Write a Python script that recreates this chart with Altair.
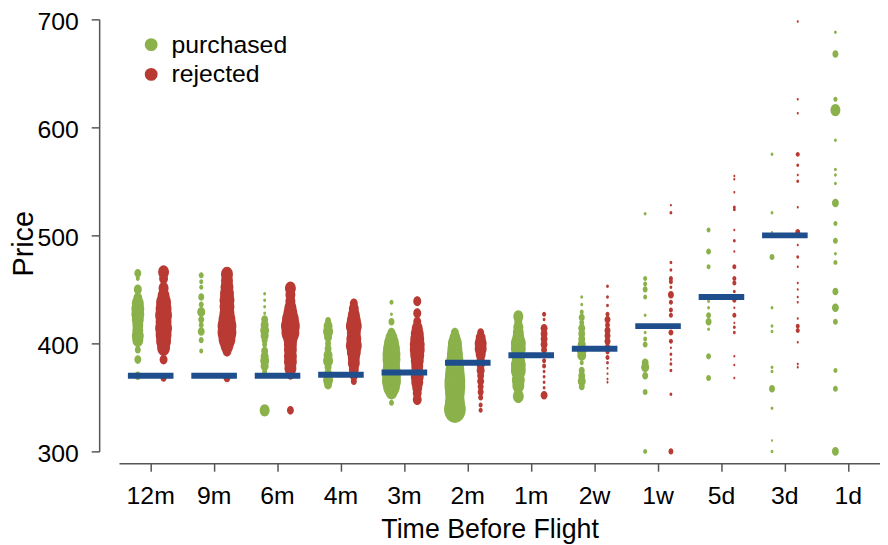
import altair as alt
import pandas as pd

PERIODS = ["12m", "9m", "6m", "4m", "3m", "2m", "1m", "2w", "1w", "5d", "3d", "1d"]
OUTCOMES = ["purchased", "rejected"]
COLORS = ["#8AB14A", "#B83A32"]
BAR_COLOR = "#1F4E8C"
FONT = "Liberation Sans"

# (price, number of observations) per period and outcome
purchased_12m = [(465,12),(460,4),(450,16),(442,20),(437,36),(432,42),(427,42),(422,36),(417,30),(412,30),(407,36),(403,30),(394,9),(385,12),(370,12)]
rejected_12m = [(466,30),(460,20),(451,25),(444,36),(438,56),(432,64),(426,72),(420,64),(414,72),(408,64),(402,56),(396,42),(385,16),(368,9)]
purchased_9m = [(463,6),(457,4),(452,4),(443,9),(436,6),(429,16),(422,9),(417,6),(411,12),(403,6),(393,4),(369,2)]
rejected_9m = [(464,36),(458,36),(452,42),(446,49),(440,56),(434,56),(428,56),(422,72),(416,90),(410,90),(404,72),(398,42),(393,20),(368,12)]
purchased_6m = [(446,2),(440,2),(434,2),(428,2),(422,12),(417,16),(412,20),(407,16),(403,9),(399,6),(393,12),(388,16),(384,20),(379,16),(374,6),(338,25)]
rejected_6m = [(451,30),(445,25),(439,25),(433,36),(428,49),(422,72),(416,90),(410,81),(404,49),(399,42),(394,42),(388,42),(383,42),(377,36),(371,16),(338,12)]
purchased_4m = [(421,9),(416,20),(411,25),(406,16),(400,9),(395,12),(389,20),(384,25),(378,12),(371,20),(366,25),(362,16)]
rejected_4m = [(437,16),(432,25),(426,36),(421,49),(416,64),(410,49),(404,56),(398,64),(392,49),(387,36),(382,36),(376,25),(370,16),(365,9)]
purchased_3m = [(438,4),(427,2),(420,9),(410,16),(405,36),(400,56),(395,72),(390,81),(385,81),(380,72),(375,81),(370,90),(365,90),(360,72),(355,36),(345,6)]
rejected_3m = [(439,16),(428,16),(420,16),(414,30),(409,42),(404,49),(399,56),(394,56),(389,49),(384,42),(379,36),(374,36),(369,42),(364,36),(359,25),(354,20),(348,20)]
purchased_2m = [(410,16),(405,30),(400,49),(395,56),(390,64),(385,72),(380,81),(375,90),(370,100),(365,110),(360,110),(355,100),(350,90),(345,100),(339,121)]
rejected_2m = [(410,12),(405,25),(400,36),(395,36),(390,25),(385,16),(380,16),(375,16),(370,12),(365,12),(360,9),(355,9),(350,6),(343,4),(338,4)]
purchased_1m = [(425,25),(420,16),(415,25),(410,30),(405,36),(400,56),(395,56),(390,42),(385,42),(380,56),(375,56),(370,30),(366,42),(361,36),(356,16),(351,30)]
rejected_1m = [(427,4),(422,2),(414,12),(409,12),(404,12),(399,12),(394,9),(389,6),(384,4),(379,4),(374,2),(369,2),(364,2),(359,2),(352,12)]
purchased_2w = [(443,2),(436,2),(429,4),(424,9),(419,6),(414,12),(409,12),(404,12),(399,16),(394,25),(389,20),(382,4),(375,9),(370,12),(365,16),(360,9)]
rejected_2w = [(453,2),(443,2),(435,2),(427,4),(422,9),(417,6),(412,9),(407,9),(402,9),(397,6),(392,4),(387,4),(382,2),(377,1),(372,1),(367,1),(364,1)]
purchased_1w = [(520,2),(460,4),(455,4),(450,6),(443,4),(426,2),(410,2),(404,4),(399,6),(382,12),(378,16),(370,9),(355,6),(300,4)]
rejected_1w = [(528,1),(521,2),(475,2),(468,2),(460,4),(457,4),(452,2),(445,9),(438,4),(431,4),(426,4),(410,6),(402,4),(396,1),(390,2),(385,1),(381,2),(375,2),(353,2),(300,6)]
purchased_5d = [(505,4),(485,6),(471,4),(439,2),(433,2),(426,6),(420,9),(413,2),(388,6),(368,6)]
rejected_5d = [(555,1),(552,1),(540,1),(526,2),(524,2),(505,1),(495,2),(485,1),(471,4),(460,4),(456,4),(448,2),(440,4),(433,1),(426,4),(419,1),(415,2),(410,2),(388,1),(380,1),(368,1)]
purchased_3d = [(575,2),(521,2),(503,1),(480,6),(433,2),(416,2),(411,2),(378,2),(374,2),(358,9),(340,2),(310,1),(300,2)]
rejected_3d = [(698,1),(626,1),(613,1),(575,4),(565,2),(556,1),(550,2),(526,1),(503,6),(491,1),(480,2),(471,1),(456,1),(450,1),(443,1),(438,1),(423,1),(416,4),(412,4),(401,1),(381,1),(378,1)]
purchased_1d = [(688,2),(668,9),(626,4),(616,25),(588,2),(561,2),(556,2),(548,2),(530,12),(511,4),(495,6),(483,2),(475,4),(448,9),(433,12),(420,6),(375,4),(358,6),(300,12)]
rejected_1d = []

THRESHOLD_PERIODS = ["12m", "9m", "6m", "4m", "3m", "2m", "1m", "2w", "1w", "5d", "3d"]
THRESHOLD_PRICES = [370, 370, 370, 371, 373, 382, 389, 395, 416, 443, 500]

purchased = [purchased_12m, purchased_9m, purchased_6m, purchased_4m, purchased_3m, purchased_2m,
             purchased_1m, purchased_2w, purchased_1w, purchased_5d, purchased_3d, purchased_1d]
rejected = [rejected_12m, rejected_9m, rejected_6m, rejected_4m, rejected_3m, rejected_2m,
            rejected_1m, rejected_2w, rejected_1w, rejected_5d, rejected_3d, rejected_1d]

rows = []
for outcome, groups in zip(OUTCOMES, [purchased, rejected]):
    for period, pts in zip(PERIODS, groups):
        for price, n in pts:
            rows.append({"period": period, "outcome": outcome, "price": price, "n": n})
points_df = pd.DataFrame(rows)
bars_df = pd.DataFrame({"period": THRESHOLD_PERIODS, "price": THRESHOLD_PRICES})

ELLIPSE = "M-0.8,0A0.8,1,0,1,1,0.8,0A0.8,1,0,1,1,-0.8,0Z"

x_enc = alt.X(
    "period:N",
    sort=PERIODS,
    scale=alt.Scale(domain=PERIODS, paddingInner=0, paddingOuter=0),
    axis=alt.Axis(
        title="Time Before Flight", offset=12, labelAngle=0, labelFontSize=25,
        titleFontSize=27, titleFontWeight="normal", tickSize=8, labelPadding=13,
        titlePadding=8, titleX=374, grid=False, domainColor="#555555", tickColor="#555555",
        domainWidth=1.5, tickWidth=1.5, labelColor="black", titleColor="black",
    ),
)
y_enc = alt.Y(
    "price:Q",
    scale=alt.Scale(domain=[300, 700], nice=False, zero=False),
    axis=alt.Axis(
        title="Price", offset=20, values=[300, 400, 500, 600, 700], labelFontSize=25,
        titleFontSize=29, titleFontWeight="normal", tickSize=8, labelPadding=13,
        labelOffset=2, titlePadding=-1, titleY=226, grid=False,
        domainColor="#555555", tickColor="#555555",
        domainWidth=1.5, tickWidth=1.5, labelColor="black", titleColor="black",
    ),
)
size_enc = alt.Size("n:Q", scale=alt.Scale(domain=[0, 121], range=[0, 756]), legend=None)
color_enc = alt.Color(
    "outcome:N",
    scale=alt.Scale(domain=OUTCOMES, range=COLORS),
    legend=alt.Legend(
        title=None, orient="none", legendX=20, legendY=13, symbolType="circle",
        symbolSize=170, symbolStrokeWidth=0, symbolOpacity=1, labelFontSize=25,
        labelOffset=8, rowPadding=4, padding=0, labelColor="black",
    ),
)

base = alt.Chart(points_df)
pts_p = base.transform_filter(alt.datum.outcome == "purchased").mark_point(
    shape=ELLIPSE, filled=True, opacity=1, strokeWidth=0, xOffset=-13
).encode(x=x_enc, y=y_enc, size=size_enc, color=color_enc)
pts_r = base.transform_filter(alt.datum.outcome == "rejected").mark_point(
    shape=ELLIPSE, filled=True, opacity=1, strokeWidth=0, xOffset=13
).encode(x=x_enc, y=y_enc, size=size_enc, color=color_enc)
bars = alt.Chart(bars_df).mark_tick(
    color=BAR_COLOR, thickness=6, size=46, orient="horizontal", opacity=1
).encode(x=x_enc, y=y_enc)

chart = (
    alt.layer(pts_p, pts_r, bars)
    .properties(
        width=768, height=436,
        autosize=alt.AutoSizeParams(type="none"),
        padding={"left": 112, "top": 9, "right": 0, "bottom": 92},
    )
    .configure(font=FONT)
    .configure_view(stroke=None, strokeWidth=0)
    .configure_axis(labelFont=FONT, titleFont=FONT, grid=False)
    .configure_legend(labelFont=FONT)
)

chart.save("out.html", embed_options={"renderer": "svg", "actions": False})
